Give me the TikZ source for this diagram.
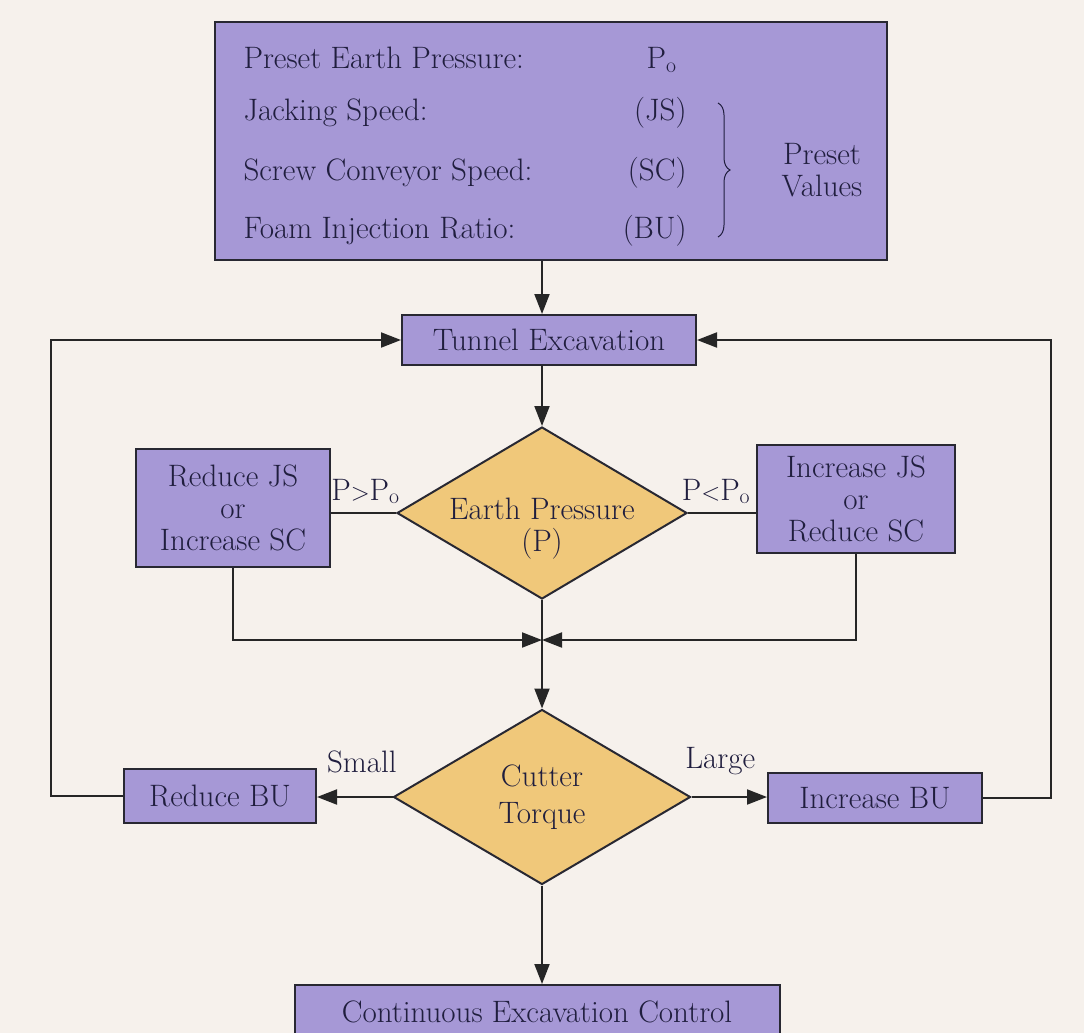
\documentclass[tikz,border=0pt]{standalone}
\usetikzlibrary{shapes.geometric,arrows.meta,decorations.pathreplacing}
\definecolor{bg}{RGB}{246,241,236}
\definecolor{lav}{RGB}{166,152,214}
\definecolor{gold}{RGB}{240,200,122}
\definecolor{ink}{RGB}{32,30,62}
\definecolor{edge}{RGB}{40,40,50}
\begin{document}
\begin{tikzpicture}[x=1pt,y=-1pt,
  txt/.style={text=ink, font=\fontsize{31}{32}\selectfont},
  box/.style={txt, draw=edge, line width=2pt, fill=lav, inner sep=0pt, align=center},
  dia/.style={diamond, draw=edge, line width=2pt, fill=gold, inner sep=0pt},
  conn/.style={draw=black!85, line width=2pt},
  arr/.style={conn, -{Triangle[length=20pt,width=15pt]}},
  lbl/.style={txt, inner sep=0pt, anchor=base}
]
\useasboundingbox (0,0) rectangle (1084,1033);
\clip (0,0) rectangle (1084,1033);
\fill[bg] (0,0) rectangle (1084,1033);

% top box
\node[box, minimum width=672pt, minimum height=238pt] (top) at (551,141) {};
\node[txt, anchor=base west] (r1) at (240,69) {Preset Earth Pressure:};
\node[txt, anchor=base west] (r2) at (240,120) {Jacking Speed:};
\node[txt, anchor=base west] (r3) at (240,180) {Screw Conveyor Speed:};
\node[txt, anchor=base west] (r4) at (240,238) {Foam Injection Ratio:};
\node[txt, anchor=base east] (v1) at (680,69) {P\textsubscript{o}};
\node[txt, anchor=base east] (v2) at (690,120) {(JS)};
\node[txt, anchor=base east] (v3) at (690,180) {(SC)};
\node[txt, anchor=base east] (v4) at (690,238) {(BU)};
\coordinate (bt) at (718,103);
\coordinate (bb) at (718,237);
\draw[ink, line width=1pt, decorate, decoration={brace, amplitude=12pt}] (bt) -- (bb);
\node[txt, align=center] (pv) at (822,170) {Preset\\Values};

% main nodes
\node[box, minimum width=294pt, minimum height=50pt] (TE) at (549,340) {Tunnel Excavation};
\node[dia, minimum width=290pt, minimum height=172pt,
  label={[txt, align=center, yshift=-16pt]center:Earth Pressure\\(P)}] (EP) at (542,513) {};
\node[box, minimum width=194pt, minimum height=118pt] (RJS) at (233,508) {Reduce JS\\or\\Increase SC};
\node[box, minimum width=198pt, minimum height=108pt] (IJS) at (856,499) {Increase JS\\or\\Reduce SC};
\node[dia, minimum width=297pt, minimum height=175pt,
  label={[txt, align=center, font=\fontsize{31}{37}\selectfont]center:Cutter\\Torque}] (CT) at (542,797) {};
\node[box, minimum width=192pt, minimum height=54pt] (RBU) at (220,796) {Reduce BU};
\node[box, minimum width=214pt, minimum height=50pt] (IBU) at (875,798) {Increase BU};
\node[box, minimum width=485pt, minimum height=54pt] (CEC) at (537,1012) {Continuous Excavation Control};

% connectors
\draw[arr] (top.south -| EP) -- (TE.north -| EP);
\draw[arr] (TE.south -| EP) -- (EP.north);
\draw[conn] (EP.west) -- node[lbl, yshift=13pt, xshift=2pt] {P$>$P\textsubscript{o}} (RJS.east |- EP.west);
\draw[conn] (EP.east) -- node[lbl, yshift=13pt, xshift=-6pt] {P$<$P\textsubscript{o}} (IJS.west |- EP.east);
\coordinate (m) at (542,640);
\draw[arr] (RJS.south) |- (m);
\draw[arr] (IJS.south) |- (m);
\draw[arr] (EP.south) -- (CT.north);
\draw[arr] (CT.west) -- node[lbl, yshift=25pt, xshift=7pt] {Small} (RBU.east |- CT.west);
\draw[arr] (CT.east) -- node[lbl, yshift=29pt, xshift=-9pt] {Large} (IBU.west |- CT.east);
\draw[arr] (RBU.west) -- ++(-72,0) |- (TE.west);
\draw[arr] (IBU.east) -- ++(68,0) |- (TE.east);
\draw[arr] (CT.south) -- (CT.south |- CEC.north);
\end{tikzpicture}
\end{document}
